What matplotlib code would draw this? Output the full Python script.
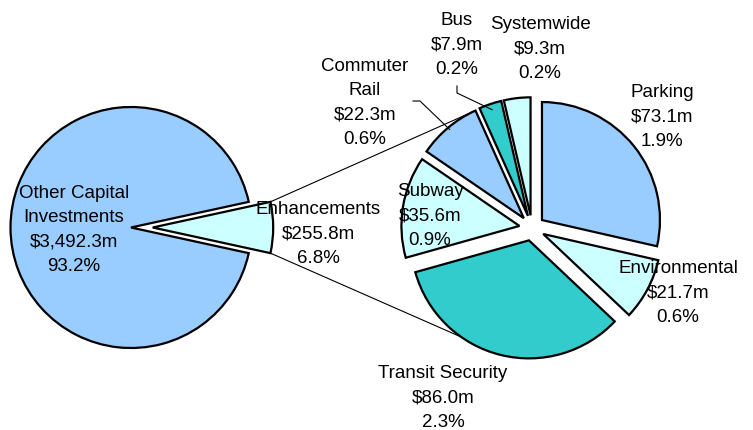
import numpy as np
import matplotlib
matplotlib.use("Agg")
import matplotlib.pyplot as plt

# ---- data ----
main_names = ["Enhancements", "Other Capital\nInvestments"]
main_values = [255.8, 3492.3]
main_value_labels = ["$255.8m", "$3,492.3m"]
main_pcts = ["6.8%", "93.2%"]

sub_names = ["Parking", "Environmental", "Transit Security", "Subway",
             "Commuter\nRail", "Bus", "Systemwide"]
sub_values = [73.1, 21.7, 86.0, 35.6, 22.3, 7.9, 9.3]
sub_value_labels = ["$73.1m", "$21.7m", "$86.0m", "$35.6m", "$22.3m", "$7.9m", "$9.3m"]
sub_pcts = ["1.9%", "0.6%", "2.3%", "0.9%", "0.6%", "0.2%", "0.2%"]

LB = "#99CCFF"
LC = "#CCFFFF"
TE = "#33CCCC"
main_colors = [LC, LB]
sub_colors = [LB, LC, TE, LC, LB, TE, LC]

W, H = 753, 431
plt.rcParams['font.family'] = ['Liberation Sans', 'DejaVu Sans']
FS = 13.5
LS = 1.55

fig = plt.figure(figsize=(W / 100, H / 100), dpi=100)
ax = fig.add_axes([0, 0, 1, 1])

def Y(yp):
    return H - yp

# left pie
R1 = 120.5
enh_angle = main_values[0] / sum(main_values) * 360
lw = 1.6
mw, _ = ax.pie(main_values, colors=main_colors, startangle=-enh_angle / 2,
               counterclock=True, explode=[0.18 * R1, 0], radius=R1,
               center=(131, Y(228.5)), frame=True,
               wedgeprops=dict(edgecolor="black", linewidth=lw))

# right pie
R2 = 118
sw, _ = ax.pie(sub_values, colors=sub_colors, startangle=90,
               counterclock=False, explode=[0.108 * R2] * len(sub_values), radius=R2,
               center=(532, Y(229)), frame=True,
               wedgeprops=dict(edgecolor="black", linewidth=lw))

def arc_pt(w, ang, frac=1.0):
    cx, cy = w.center
    a = np.deg2rad(ang)
    return cx + frac * w.r * np.cos(a), cy + frac * w.r * np.sin(a)

# connector lines between enhancement wedge and sub pie
enh = mw[0]
p_top = arc_pt(enh, enh.theta2)
p_bot = arc_pt(enh, enh.theta1)
comm = sw[4]
q_top = arc_pt(comm, min(comm.theta1, comm.theta2))
ts = sw[2]
q_bot = arc_pt(ts, -125)
ax.plot([p_top[0], q_top[0]], [p_top[1], q_top[1]], color="black", lw=0.8, zorder=0.5)
ax.plot([p_bot[0], q_bot[0]], [p_bot[1], q_bot[1]], color="black", lw=0.8, zorder=0.5)

# leader lines
def mid(w):
    return (w.theta1 + w.theta2) / 2
cr_end = arc_pt(comm, mid(comm), 0.98)
ax.plot([413, 420, cr_end[0]], [Y(102), Y(102), cr_end[1]], color="black", lw=0.8)
bus = sw[5]
bus_end = arc_pt(bus, mid(bus), 0.95)
ax.plot([457, 457, bus_end[0]], [Y(87), Y(94), bus_end[1]], color="black", lw=0.8)

# labels
main_pos = [(318, 234), (74, 230)]
for n, v, p, (x, y) in zip(main_names, main_value_labels, main_pcts, main_pos):
    ax.text(x, Y(y), f"{n}\n{v}\n{p}", ha="center", va="center",
            multialignment="center", fontsize=FS, linespacing=LS, zorder=5)

sub_pos = [(662, 117), (678, 293), (443, 398), (430, 216),
           (365, 103), (457, 45), (540, 49)]
for n, v, p, (x, y) in zip(sub_names, sub_value_labels, sub_pcts, sub_pos):
    ax.text(x, Y(y), f"{n}\n{v}\n{p}", ha="center", va="center",
            multialignment="center", fontsize=FS, linespacing=LS, zorder=5)

ax.set_xlim(0, W)
ax.set_ylim(0, H)
ax.set_aspect("equal")
ax.axis("off")
fig.savefig("out.png", dpi=100, facecolor="white")
